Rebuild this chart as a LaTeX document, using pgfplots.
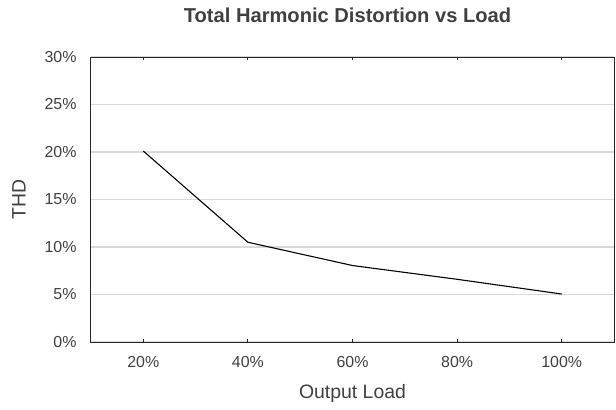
\documentclass[border=0pt]{standalone}
\usepackage{pgfplots}
\pgfplotsset{compat=1.18}
\usepackage{fontspec}
\setmainfont{Liberation Sans}
\definecolor{txt}{HTML}{404040}
\definecolor{gridc}{HTML}{D9D9D9}
\begin{document}
\begin{tikzpicture}[x=1bp,y=1bp]
\begin{axis}[
  scale only axis,
  width=523bp, height=285bp,
  xmin=-0.5, xmax=4.5,
  ymin=0, ymax=30,
  xtick={0,1,2,3,4},
  xticklabels={20\%,40\%,60\%,80\%,100\%},
  ytick={0,5,10,15,20,25,30},
  yticklabels={0\%,5\%,10\%,15\%,20\%,25\%,30\%},
  ymajorgrids=true,
  xmajorgrids=false,
  major grid style={draw=gridc, line width=1.5bp},
  axis line style={black!85, line width=1bp},
  xtick style={black!85, line width=0.8bp},
  ytick style={draw=none},
  tick align=inside,
  major tick length=3.3bp,
  tick label style={font=\fontsize{16}{19}\selectfont, text=txt},
  xticklabel style={yshift=-10.5bp},
  yticklabel style={xshift=-11bp},
  xlabel={Output Load},
  ylabel={THD},
  label style={font=\fontsize{19.5}{23}\selectfont, text=txt},
  xlabel style={yshift=-10bp},
  ylabel style={yshift=12bp},
  title={\textbf{Total Harmonic Distortion vs Load}},
  title style={font=\fontsize{20.2}{24}\selectfont, text=txt, yshift=25bp, xshift=-5bp},
  clip=false,
]
\addplot[black, line width=1.1bp, mark=none] coordinates {
  (0,20.1) (1,10.5) (2,8.05) (3,6.6) (4,5.05)
};
\end{axis}
\pgfresetboundingbox
\path[use as bounding box] (current axis.south west) ++(-91bp,-68bp) rectangle ++(616bp,410bp);
\end{tikzpicture}
\end{document}
